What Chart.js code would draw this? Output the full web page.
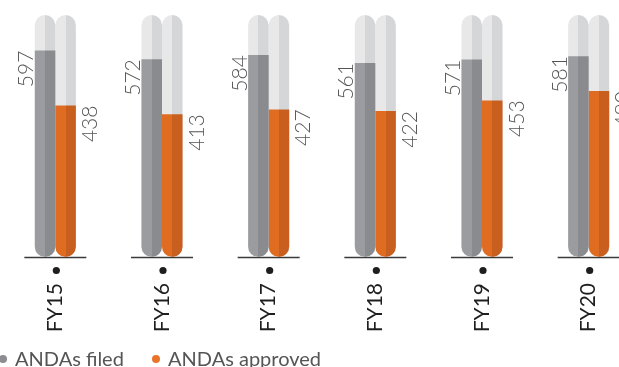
<!DOCTYPE html>
<html>
<head>
<meta charset="utf-8">
<script src="https://cdn.jsdelivr.net/npm/chart.js@4.4.1/dist/chart.umd.min.js"></script>
<style>
  html, body { margin: 0; padding: 0; background: #fff; overflow: hidden; }
  #wrap { position: relative; width: 619px; height: 367px; overflow: hidden; }
  #chart { position: absolute; left: 0; top: 0; }
  .legend { position: absolute; left: -1px; top: 346px; font-family: Lato, sans-serif; font-size: 20px; color: #555; white-space: nowrap; }
  .legend span.dot { display: inline-block; width: 8px; height: 8px; border-radius: 50%; margin-right: 8px; vertical-align: 3px; }
  .legend .item { margin-right: 23px; }
</style>
</head>
<body>
<div id="wrap">
  <canvas id="chart" width="642" height="367"></canvas>
  <div class="legend">
    <span class="item"><span class="dot" style="background:#8c8d91"></span>ANDAs filed</span>
    <span class="item"><span class="dot" style="background:#e8732a"></span>ANDAs approved</span>
  </div>
</div>
<script>
const years = ['FY15', 'FY16', 'FY17', 'FY18', 'FY19', 'FY20'];
const filed = [597, 572, 584, 561, 571, 581];
const approved = [438, 413, 427, 422, 453, 480];
const trackMax = [700, 700, 700, 700, 700, 700];

const catPct = 0.385;

// gradient with a hard stop: left half light, right half dark
function splitFill(light, dark) {
    return (c) => {
        const chart = c.chart;
        const xs = chart.scales.x;
        if (!xs || c.dataIndex === undefined || !chart.chartArea) return light;
        const w = xs.width / years.length;
        const cx = xs.getPixelForValue(c.dataIndex);
        const slot = w * catPct / 2;
        const left = cx - w * catPct / 2 + slot * (c.datasetIndex % 2);
        const g = chart.ctx.createLinearGradient(left, 0, left + slot, 0);
        g.addColorStop(0, light);
        g.addColorStop(0.5, light);
        g.addColorStop(0.5, dark);
        g.addColorStop(1, dark);
        return g;
    };
}

const baseAndDots = {
    id: 'baseAndDots',
    beforeDatasetsDraw(chart) {
        const ctx = chart.ctx;
        const xs = chart.scales.x;
        const y = chart.chartArea.bottom;
        ctx.save();
        ctx.strokeStyle = '#3a3a3a';
        ctx.lineWidth = 1.5;
        ctx.fillStyle = '#1e1e1e';
        years.forEach((_, i) => {
            const cx = xs.getPixelForValue(i);
            ctx.beginPath();
            ctx.moveTo(cx - 31, y + 0.5);
            ctx.lineTo(cx + 31, y + 0.5);
            ctx.stroke();
            ctx.beginPath();
            ctx.arc(cx + 1, y + 13.5, 3.6, 0, Math.PI * 2);
            ctx.fill();
        });
        ctx.restore();
    }
};

const valueLabels = {
    id: 'valueLabels',
    afterDatasetsDraw(chart) {
        const ctx = chart.ctx;
        ctx.save();
        ctx.font = '300 21px Lato, sans-serif';
        ctx.fillStyle = '#555';
        ctx.textAlign = 'right';
        ctx.textBaseline = 'alphabetic';
        [0, 1].forEach(di => {
            const meta = chart.getDatasetMeta(di);
            meta.data.forEach((el, i) => {
                const p = el.getProps(['x', 'y', 'width'], true);
                const v = chart.data.datasets[di].data[i];
                const bx = di === 0 ? p.x - p.width / 2 - 1.5 : p.x + p.width / 2 + 21;
                ctx.save();
                ctx.translate(bx, p.y);
                ctx.rotate(-Math.PI / 2);
                ctx.fillText(String(v), 0, 0);
                ctx.restore();
            });
        });
        ctx.restore();
    }
};

const bottomRound = { topLeft: 0, topRight: 0, bottomLeft: 20, bottomRight: 20 };
const allRound = { topLeft: 20, topRight: 20, bottomLeft: 20, bottomRight: 20 };

new Chart(document.getElementById('chart'), {
    type: 'bar',
    data: {
        labels: years,
        datasets: [
            {
                label: 'ANDAs filed',
                data: filed,
                stack: 'filed',
                backgroundColor: splitFill('#9b9ca0', '#8a8b8f'),
                borderSkipped: false,
                borderRadius: bottomRound
            },
            {
                label: 'ANDAs approved',
                data: approved,
                stack: 'approved',
                backgroundColor: splitFill('#e06c22', '#c95f1f'),
                borderSkipped: false,
                borderRadius: bottomRound
            },
            {
                label: 'track filed',
                data: trackMax,
                stack: 'filed',
                backgroundColor: splitFill('#e8e8e9', '#d5d6d8'),
                borderSkipped: false,
                borderRadius: allRound
            },
            {
                label: 'track approved',
                data: trackMax,
                stack: 'approved',
                backgroundColor: splitFill('#e8e8e9', '#d5d6d8'),
                borderSkipped: false,
                borderRadius: allRound
            }
        ]
    },
    options: {
        responsive: false,
        animation: false,
        layout: { padding: { left: 2, top: 15, right: 0, bottom: 0 } },
        datasets: {
            bar: { categoryPercentage: catPct, barPercentage: 1 }
        },
        plugins: {
            legend: { display: false },
            tooltip: { enabled: false }
        },
        scales: {
            x: {
                stacked: true,
                grid: { display: false, drawTicks: false },
                border: { display: false },
                afterFit(s) { s.height = 110; },
                ticks: {
                    minRotation: 90,
                    maxRotation: 90,
                    padding: 26,
                    color: '#1e1e1e',
                    font: { family: 'Lato, sans-serif', size: 21 }
                }
            },
            y: {
                stacked: false,
                display: false,
                min: 0,
                max: 700
            }
        }
    },
    plugins: [baseAndDots, valueLabels]
});
</script>
</body>
</html>
